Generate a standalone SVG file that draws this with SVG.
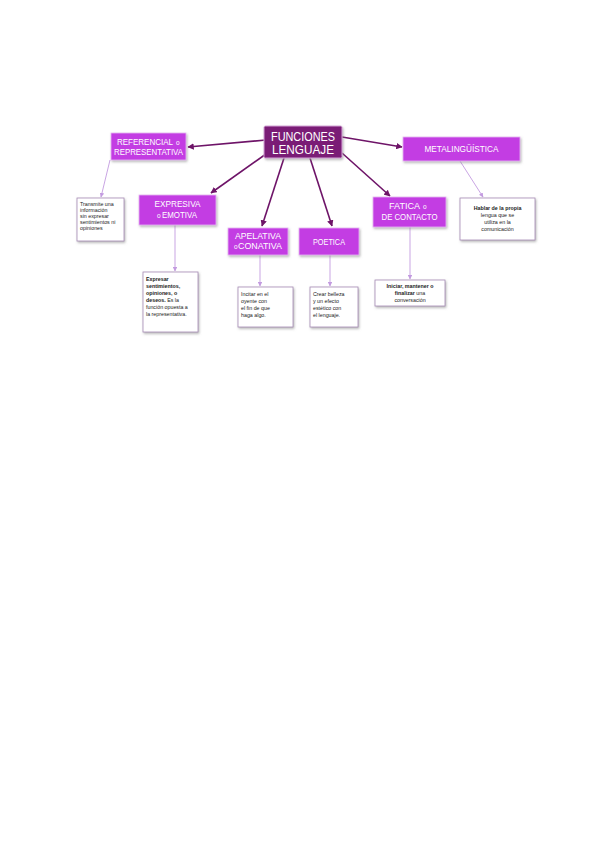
<svg xmlns="http://www.w3.org/2000/svg" width="600" height="848" viewBox="0 0 600 848">
<defs>
<marker id="ad" viewBox="0 0 10 10" refX="9" refY="5" markerWidth="4" markerHeight="4" orient="auto"><path d="M0,0 L10,5 L0,10 z" fill="#6e1468"/></marker>
<marker id="al" viewBox="0 0 10 10" refX="9" refY="5" markerWidth="5" markerHeight="5" orient="auto"><path d="M0,0 L10,5 L0,10 z" fill="#c39be0"/></marker>
<filter id="sh" x="-10%" y="-10%" width="130%" height="140%"><feDropShadow dx="1" dy="1.5" stdDeviation="0.8" flood-color="#888" flood-opacity="0.6"/></filter>
</defs>
<style>
.n{fill:#c33de3;stroke:#e7b8f2;stroke-width:0.8;filter:url(#sh)}
.c{fill:#7a1a76;stroke:#d6a8d8;stroke-width:1;filter:url(#sh)}
.t{fill:#ffffff;stroke:#a68bb5;stroke-width:0.8;filter:url(#sh)}
.l{font-family:"Liberation Sans",Arial,sans-serif;font-size:8.5px;fill:#ffffff;text-anchor:middle}
.ls{font-family:"Liberation Sans",Arial,sans-serif;font-size:8.5px;fill:#ffffff}
.o{font-family:"Liberation Sans",Arial,sans-serif;font-size:6.5px;fill:#ffffff}
.lc{font-family:"Liberation Sans",Arial,sans-serif;font-size:13px;fill:#ffffff;text-anchor:middle}
.s{font-family:"Liberation Sans",Arial,sans-serif;font-size:5.3px;fill:#222222}
.sm{text-anchor:middle}
.b{font-weight:bold}
.cd{stroke:#6e1468;stroke-width:1.6;fill:none;marker-end:url(#ad)}
.cl{stroke:#c39be0;stroke-width:0.9;fill:none;marker-end:url(#al)}
</style>
<rect width="600" height="848" fill="#ffffff"/>
<g id="connectors">
<line class="cd" x1="266" y1="140" x2="188" y2="147"/>
<line class="cd" x1="342" y1="137" x2="402" y2="147"/>
<line class="cd" x1="266" y1="154" x2="211" y2="193"/>
<line class="cd" x1="284" y1="158" x2="262" y2="226"/>
<line class="cd" x1="310" y1="158" x2="332" y2="226"/>
<line class="cd" x1="342" y1="153" x2="390" y2="196"/>
<line class="cl" x1="110" y1="160" x2="101" y2="197"/>
<line class="cl" x1="175" y1="225" x2="175" y2="271"/>
<line class="cl" x1="260" y1="255" x2="260" y2="286"/>
<line class="cl" x1="330" y1="255" x2="330" y2="286"/>
<line class="cl" x1="410" y1="227" x2="410" y2="279"/>
<line class="cl" x1="460" y1="161" x2="483" y2="197"/>
</g>
<g id="funciones">
<rect class="c" x="264" y="126" width="78" height="32" rx="1.5"/>
<text class="lc" x="303" y="140.5" textLength="64" lengthAdjust="spacingAndGlyphs">FUNCIONES</text>
<text class="lc" x="303" y="154" textLength="62" lengthAdjust="spacingAndGlyphs">LENGUAJE</text>
</g>
<g id="referencial">
<rect class="n" x="111" y="133" width="75" height="27"/>
<text class="ls" x="117" y="145" textLength="56" lengthAdjust="spacingAndGlyphs">REFERENCIAL</text>
<text class="o" x="176" y="145">o</text>
<text class="l" x="148.5" y="155" textLength="69" lengthAdjust="spacingAndGlyphs">REPRESENTATIVA</text>
</g>
<g id="metalinguistica">
<rect class="n" x="403" y="137" width="117" height="24"/>
<text class="l" x="461.5" y="152" textLength="74" lengthAdjust="spacingAndGlyphs">METALINGÜÍSTICA</text>
</g>
<g id="expresiva">
<rect class="n" x="139" y="195" width="77" height="30"/>
<text class="l" x="177.5" y="207" textLength="46" lengthAdjust="spacingAndGlyphs">EXPRESIVA</text>
<text class="o" x="157" y="218">o</text>
<text class="ls" x="162" y="218" textLength="35" lengthAdjust="spacingAndGlyphs">EMOTIVA</text>
</g>
<g id="apelativa">
<rect class="n" x="228" y="228" width="60" height="27"/>
<text class="l" x="258" y="239" textLength="46" lengthAdjust="spacingAndGlyphs">APELATIVA</text>
<text class="o" x="234" y="249">o</text>
<text class="ls" x="238" y="249" textLength="44" lengthAdjust="spacingAndGlyphs">CONATIVA</text>
</g>
<g id="poetica">
<rect class="n" x="299" y="228" width="60" height="27"/>
<text class="l" x="329" y="244.5" textLength="32" lengthAdjust="spacingAndGlyphs">POETICA</text>
</g>
<g id="fatica">
<rect class="n" x="373" y="197" width="73" height="30"/>
<text class="ls" x="389" y="209" textLength="31" lengthAdjust="spacingAndGlyphs">FATICA</text>
<text class="o" x="423" y="209">o</text>
<text class="l" x="409.5" y="220" textLength="56" lengthAdjust="spacingAndGlyphs">DE CONTACTO</text>
</g>
<g id="t-referencial">
<rect class="t" x="77" y="198" width="47" height="43"/>
<text class="s" x="80" y="206">Transmite una</text>
<text class="s" x="80" y="212">información</text>
<text class="s" x="80" y="218">sin expresar</text>
<text class="s" x="80" y="224">sentimientos ni</text>
<text class="s" x="80" y="230">opiniones</text>
</g>
<g id="t-expresiva">
<rect class="t" x="143" y="272" width="55" height="60"/>
<text class="s b" x="146" y="281">Expresar</text>
<text class="s b" x="146" y="288">sentimientos,</text>
<text class="s b" x="146" y="295">opiniones, o</text>
<text class="s" x="146" y="302"><tspan class="b">deseos.</tspan> Es la</text>
<text class="s" x="146" y="309">función opuesta a</text>
<text class="s" x="146" y="316">la representativa.</text>
</g>
<g id="t-apelativa">
<rect class="t" x="238" y="287" width="55" height="40"/>
<text class="s" x="241" y="296">Incitar en el</text>
<text class="s" x="241" y="303">oyente con</text>
<text class="s" x="241" y="310">el fin de que</text>
<text class="s" x="241" y="317">haga algo.</text>
</g>
<g id="t-poetica">
<rect class="t" x="310" y="287" width="48" height="40"/>
<text class="s" x="313" y="296">Crear belleza</text>
<text class="s" x="313" y="303">y un efecto</text>
<text class="s" x="313" y="310">estético con</text>
<text class="s" x="313" y="317">el lenguaje.</text>
</g>
<g id="t-fatica">
<rect class="t" x="375" y="280" width="70" height="26"/>
<text class="s sm b" x="410" y="288">Iniciar, mantener o</text>
<text class="s sm b" x="410" y="295">finalizar <tspan font-weight="normal">una</tspan></text>
<text class="s sm" x="410" y="302">conversación</text>
</g>
<g id="t-metalinguistica">
<rect class="t" x="460" y="198" width="75" height="42"/>
<text class="s sm b" x="497.5" y="210">Hablar de la propia</text>
<text class="s sm" x="497.5" y="217">lengua que se</text>
<text class="s sm" x="497.5" y="224">utiliza en la</text>
<text class="s sm" x="497.5" y="231">comunicación</text>
</g>
</svg>
